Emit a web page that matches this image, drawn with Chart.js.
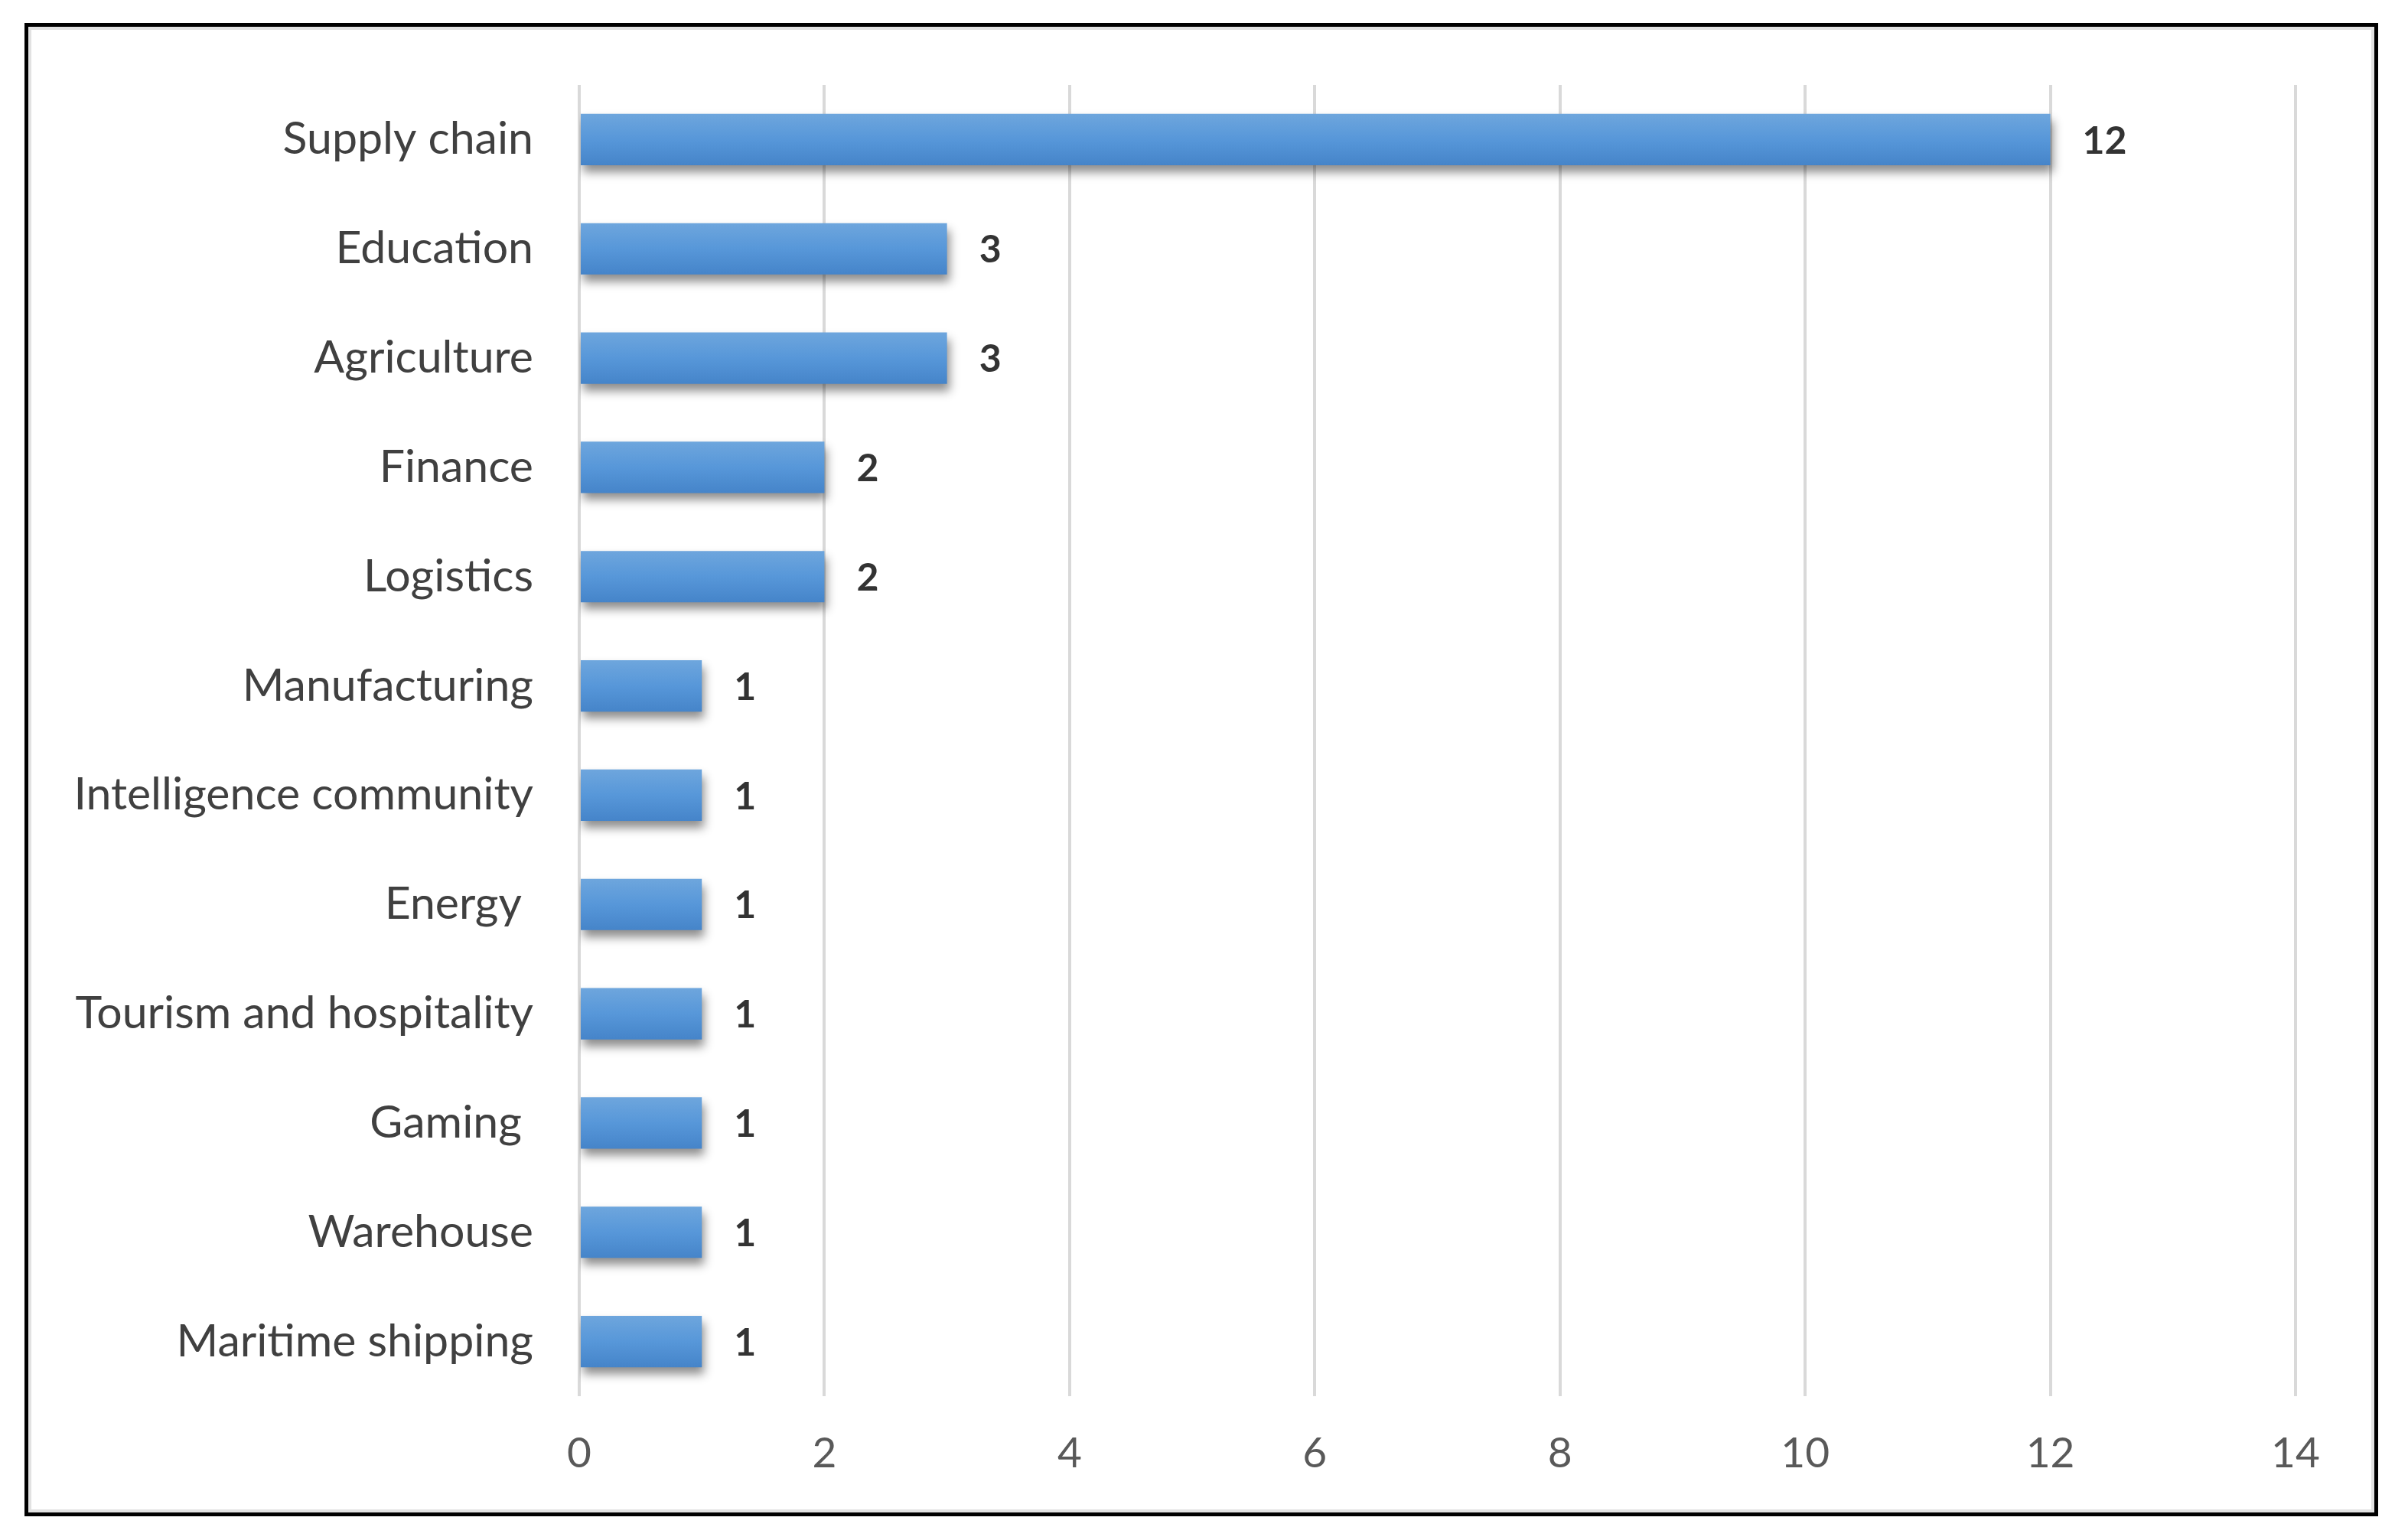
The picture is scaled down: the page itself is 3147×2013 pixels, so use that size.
<!DOCTYPE html>
<html>
<head>
<meta charset="utf-8">
<script src="https://cdn.jsdelivr.net/npm/chart.js@4.4.1/dist/chart.umd.min.js"></script>
<style>
  html, body { margin: 0; padding: 0; background: #fff; }
  #wrap { position: relative; width: 3147px; height: 2013px; }
  #frame {
    position: absolute; left: 32px; top: 30px; width: 3066px; height: 1942px;
    border: 5px solid #000; box-shadow: inset 0 0 0 4px #e2e2e2;
  }
  #c { position: absolute; left: 0; top: 0; }
</style>
</head>
<body>
<div id="wrap">
  <div id="frame"></div>
  <canvas id="c" width="3147" height="2013"></canvas>
</div>
<script>
// categorías y valores
const categories = [
  "Supply chain", "Education", "Agriculture", "Finance", "Logistics",
  "Manufacturing", "Intelligence community", "Energy ", "Tourism and hospitality",
  "Gaming ", "Warehouse", "Maritime shipping"
];
const counts = [12, 3, 3, 2, 2, 1, 1, 1, 1, 1, 1, 1];
const xTicks = [0, 2, 4, 6, 8, 10, 12, 14];

const FONT = "Lato, 'Open Sans', sans-serif";

// degradado vertical por barra
function barFill(ctx) {
  const chart = ctx.chart;
  const y = chart.scales && chart.scales.y;
  if (!y || !chart.chartArea || ctx.dataIndex === undefined) return "#5592d6";
  const cy = y.getPixelForValue(ctx.dataIndex);
  const g = chart.ctx.createLinearGradient(0, cy - 34, 0, cy + 34);
  g.addColorStop(0, "#6ea6dd");
  g.addColorStop(0.5, "#5797d9");
  g.addColorStop(1, "#4584c9");
  return g;
}

// sombra bajo las barras + etiquetas con el valor
const barExtras = {
  id: "barExtras",
  beforeDatasetsDraw(chart) {
    const c = chart.ctx;
    c.save();
    c.shadowColor = "rgba(0,0,0,0.45)";
    c.shadowBlur = 12;
    c.shadowOffsetX = 3;
    c.shadowOffsetY = 9;
  },
  afterDatasetsDraw(chart) {
    const c = chart.ctx;
    c.restore();
    c.save();
    c.font = "bold 50px " + FONT;
    c.fillStyle = "#333333";
    c.textAlign = "left";
    c.textBaseline = "middle";
    chart.getDatasetMeta(0).data.forEach((bar, i) => {
      c.fillText(String(counts[i]), bar.x + 42, bar.y + 2);
    });
    c.restore();
  }
};

new Chart(document.getElementById("c"), {
  type: "bar",
  data: {
    labels: categories,
    datasets: [{
      data: counts,
      backgroundColor: barFill,
      borderWidth: 0,
      categoryPercentage: 1,
      barPercentage: 0.47
    }]
  },
  options: {
    indexAxis: "y",
    responsive: false,
    animation: false,
    devicePixelRatio: 1,
    layout: { padding: { top: 111, right: 147, bottom: 0, left: 0 } },
    plugins: { legend: { display: false }, tooltip: { enabled: false } },
    scales: {
      x: {
        min: 0, max: 14,
        afterBuildTicks: (s) => { s.ticks = xTicks.map((v) => ({ value: v })); },
        afterFit: (s) => { s.height = 188; },
        grid: { color: "#d9d9d9", lineWidth: 4, drawTicks: false },
        border: { display: false },
        ticks: { color: "#595959", padding: 42, font: { family: FONT, size: 55 } }
      },
      y: {
        afterFit: (s) => { s.width = 757; },
        grid: { display: false, drawTicks: false },
        border: { display: false },
        ticks: { color: "#404040", padding: 60, font: { family: FONT, size: 59 } }
      }
    }
  },
  plugins: [barExtras]
});
</script>
</body>
</html>
